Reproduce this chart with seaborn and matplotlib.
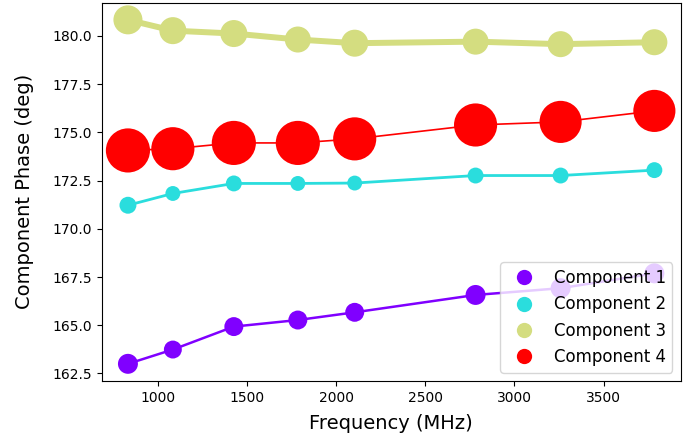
import numpy as np
import pandas as pd
import matplotlib
matplotlib.use("Agg")
import matplotlib.pyplot as plt
from matplotlib.lines import Line2D
import seaborn as sns

# Frequenzpunkte (MHz)
freqs = [832, 1084, 1426, 1785, 2104, 2782, 3259, 3785]

comp_names = ["Component 1", "Component 2", "Component 3", "Component 4"]

# Phase je Komponente (deg)
phase_c1 = [163.00, 163.74, 164.93, 165.27, 165.67, 166.57, 166.92, 167.69]
phase_c2 = [171.22, 171.83, 172.35, 172.35, 172.37, 172.76, 172.76, 173.04]
phase_c3 = [180.83, 180.27, 180.12, 179.81, 179.62, 179.70, 179.57, 179.67]
phase_c4 = [174.06, 174.15, 174.45, 174.45, 174.66, 175.38, 175.54, 176.11]

# relative Amplitude je Punkt (bestimmt die Markergroesse)
amp_c1 = [4.00, 3.24, 3.61, 3.61, 3.61, 4.00, 4.00, 4.00]
amp_c2 = [2.89, 2.25, 2.56, 2.25, 2.25, 2.56, 2.56, 2.56]
amp_c3 = [8.41, 7.29, 7.29, 6.76, 7.29, 6.76, 6.76, 6.76]
amp_c4 = [19.36, 18.49, 19.36, 19.36, 18.49, 18.49, 17.64, 17.64]

phases = [phase_c1, phase_c2, phase_c3, phase_c4]
amps = [amp_c1, amp_c2, amp_c3, amp_c4]
line_widths = [1.8, 2.0, 4.3, 1.2]

colors = plt.cm.rainbow(np.linspace(0, 1, len(comp_names)))
palette = {name: colors[i] for i, name in enumerate(comp_names)}

rows = []
for name, ph, am in zip(comp_names, phases, amps):
    for f, p, a in zip(freqs, ph, am):
        rows.append({"freq": f, "phase": p, "amp": a, "component": name})
df = pd.DataFrame(rows)

fig, ax = plt.subplots(figsize=(6.96, 4.41), dpi=100)
fig.subplots_adjust(left=0.146, right=0.978, top=0.994, bottom=0.136)

for i, name in enumerate(comp_names):
    sub = df[df["component"] == name]
    sns.lineplot(data=sub, x="freq", y="phase", color=colors[i],
                 linewidth=line_widths[i], ax=ax, legend=False, zorder=2)

sns.scatterplot(data=df, x="freq", y="phase", hue="component", palette=palette,
                size="amp", sizes=(115, 1010), edgecolor="none",
                legend=False, ax=ax, zorder=3)

handles = [Line2D([0], [0], marker="o", linestyle="", markersize=11,
                  markerfacecolor=colors[i], markeredgecolor="none", label=name)
           for i, name in enumerate(comp_names)]
ax.legend(handles=handles, loc="lower right", fontsize=12)

ax.set_xlabel("Frequency (MHz)", fontsize=14, labelpad=7)
ax.set_ylabel("Component Phase (deg)", fontsize=14, labelpad=13)

fig.savefig("out.png", dpi=100)
